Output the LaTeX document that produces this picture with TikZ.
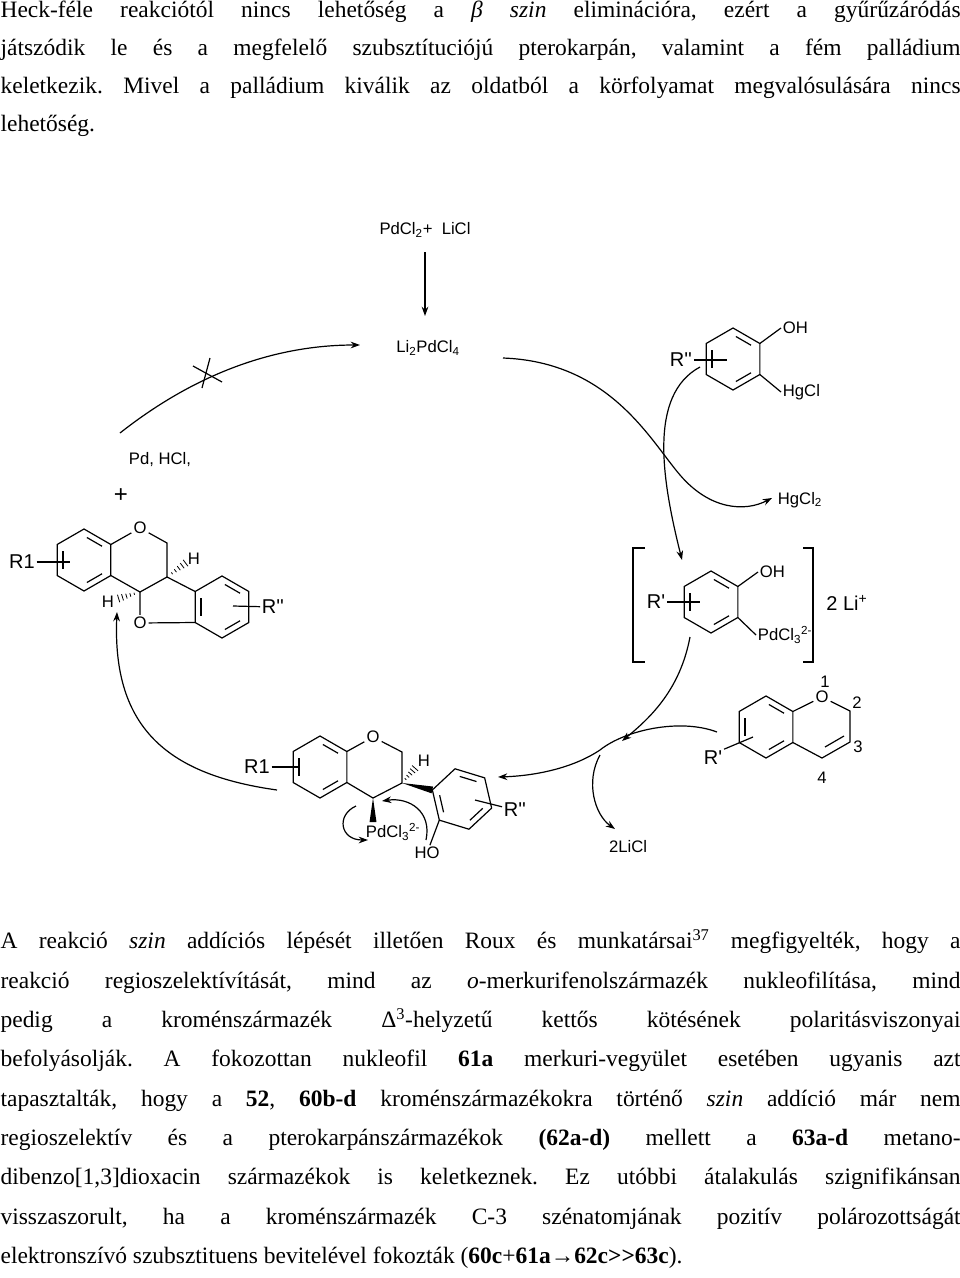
\documentclass[tikz,border=0pt]{standalone}
\usepackage{fontspec}
\setmainfont{Liberation Serif}
\newfontfamily\lab{Liberation Sans}
\usetikzlibrary{calc,arrows.meta}
\def\R{31}
\newcommand\ring[4]{%
 \begin{scope}[shift={(#1)}]
 \foreach \k in {0,...,5}{\coordinate (#4-\k) at (#2+30+60*\k:\R);}
 \draw[line join=round] (#4-0)--(#4-1)--(#4-2)--(#4-3)--(#4-4)--(#4-5)--cycle;
 \foreach \a in {#3}{\draw[shorten <=2.5pt,shorten >=2.5pt] (\a:0.78*\R) -- (\a+60:0.78*\R);}
 \end{scope}}
\newcommand\hashb[2]{\foreach \t in {0.25,0.42,0.59,0.76,0.93}{\draw[line width=0.6pt] ($(#1)!\t!(#2)!\t*3.2pt!90:(#2)$) -- ($(#1)!\t!(#2)!\t*3.2pt!-90:(#2)$);}}
\newcommand\wedgeb[2]{\fill (#1) -- ($(#2)!2.6pt!90:(#1)$) -- ($(#2)!2.6pt!-90:(#1)$) -- cycle;}
\begin{document}
\begin{tikzpicture}[x=0.75pt,y=-0.75pt,line width=0.9pt,
  lb/.style={font=\lab\fontsize{12.5}{14}\selectfont,inner sep=1pt},
  rl/.style={font=\lab\fontsize{15}{16}\selectfont,inner sep=1pt},
  atm/.style={font=\lab\fontsize{12.5}{14}\selectfont,inner sep=1.2pt},
  arr/.style={-{Stealth[length=7pt,width=5pt]}}]
\useasboundingbox (0,0) rectangle (960,1278);
\node[anchor=north west,inner sep=0,text width=720pt,align=justify,font=\frenchspacing\fontsize{17.6}{28.5}\selectfont] (p1) at (0,0)
{Heck-féle reakciótól nincs lehetőség a \textit{β szin} eliminációra, ezért a gyűrűzáródás\linebreak
játszódik le és a megfelelő szubsztítuciójú pterokarpán, valamint a fém palládium\linebreak
keletkezik. Mivel a palládium kiválik az oldatból a körfolyamat megvalósulására nincs\linebreak
lehetőség.};
\node[anchor=north west,inner sep=0,text width=720pt,align=justify,font=\frenchspacing\fontsize{17.6}{29.5}\selectfont] (p2) at (0,929)
{A reakció \textit{szin} addíciós lépését illetően Roux és munkatársai\textsuperscript{37} megfigyelték, hogy a\linebreak
reakció regioszelektívítását, mind az \textit{o}-merkurifenolszármazék nukleofilítása, mind\linebreak
pedig a kroménszármazék Δ\textsuperscript{3}-helyzetű kettős kötésének polaritásviszonyai\linebreak
befolyásolják. A fokozottan nukleofil \textbf{61a} merkuri-vegyület esetében ugyanis azt\linebreak
tapasztalták, hogy a \textbf{52}, \textbf{60b-d} kroménszármazékokra történő \textit{szin} addíció már nem\linebreak
regioszelektív és a pterokarpánszármazékok \textbf{(62a-d)} mellett a \textbf{63a-d} metano-\linebreak
dibenzo[1,3]dioxacin származékok is keletkeznek. Ez utóbbi átalakulás szignifikánsan\linebreak
visszaszorult, ha a kroménszármazék C-3 szénatomjának pozitív polározottságát\linebreak
elektronszívó szubsztituens bevitelével fokozták (\textbf{60c}+\textbf{61a}{\lab→}\textbf{62c>{}>63c}).};

% reagents
\node[lb] (pdcl) at (425,230) {PdCl\textsubscript{2}+ \ LiCl};
\node[lb] (li) at (428,348) {Li\textsubscript{2}PdCl\textsubscript{4}};
\draw[arr] (425,252) -- (425,316);
\node[lb] (pdh) at (160,460) {Pd, HCl,};
\node[font=\lab\fontsize{18}{19}\selectfont] (plus) at (121,496) {+};
\node[lb,anchor=west] (hgcl2) at (776,500) {HgCl\textsubscript{2}};
\node[lb] (licl) at (628,847) {2LiCl};

% pterocarpan
\ring{84,560}{0}{30,150,270}{A}
\ring{222,607}{0}{30,150,270}{B}
\node[atm] (O1) at (140,528) {O};
\node[atm] (O2) at (140,623) {O};
\coordinate (C6) at (167,543); \coordinate (C6a) at (167,577); \coordinate (C11a) at (140,592);
\draw (A-5) -- (O1) -- (C6) -- (C6a) -- (C11a) -- (A-0);
\draw (C11a) -- (O2) -- (B-2); \draw (C6a) -- (B-3);
\coordinate (H1e) at (187,562); \hashb{C6a}{H1e}
\node[lb] (H1) at (194,559) {H};
\coordinate (H2e) at (117,599); \hashb{C11a}{H2e}
\node[lb] (H2) at (108,602) {H};
\node[rl] (R1a) at (22,562) {R1};
\coordinate (R1ae) at (70,562); \draw (R1a) -- (R1ae);
\node[rl] (R2a) at (273,607) {R''};
\coordinate (R2as) at (233,606); \draw (R2as) -- (R2a);

% bottom intermediate
\ring{320,767}{0}{30,150,270}{C}
\ring{462,799}{-13}{17,137,257}{D}
\node[atm] (O3) at (373,737) {O};
\coordinate (C2b) at (402,752); \coordinate (C3b) at (402,783); \coordinate (C4b) at (373,798);
\draw (C-5) -- (O3) -- (C2b) -- (C3b) -- (C4b) -- (C-0);
\coordinate (H3e) at (416,767); \hashb{C3b}{H3e}
\node[lb] (H3) at (424,761) {H};
\wedgeb{C3b}{D-3}
\coordinate (Pde) at (373,822); \wedgeb{C4b}{Pde}
\node[lb,anchor=west] (pd2) at (364,832) {PdCl\textsubscript{3}\textsuperscript{2-}};
\node[lb] (HO) at (427,853) {HO};
\draw (D-2) -- (HO);
\node[rl] (R1b) at (257,767) {R1};
\coordinate (R1be) at (300,767); \draw (R1b) -- (R1be);
\node[rl] (R2b) at (515,810) {R''};
\coordinate (R2bs) at (475,800); \draw (R2bs) -- (R2b);
\draw[arr] (356,806) .. controls (336,815) and (340,840) .. (368,840);
\draw[arr] (426,840) .. controls (432,812) and (410,797) .. (382,801);

% mercury aryl
\ring{733,359}{0}{30,150,270}{E}
\node[lb,anchor=west] (OHe) at (781,328) {OH};
\node[lb,anchor=west] (HgCl) at (781,392) {HgCl};
\draw (E-5) -- (OHe.west); \draw (E-0) -- (HgCl.west);
\node[rl] (R2e) at (681,360) {R''};
\coordinate (R2ee) at (727,360); \draw (R2e) -- (R2ee);

% complex
\ring{711,602}{0}{30,150,270}{F}
\node[lb,anchor=west] (OHf) at (758,572) {OH};
\node[lb,anchor=west] (pd3) at (756,635) {PdCl\textsubscript{3}\textsuperscript{2-}};
\draw (F-5) -- (OHf.west); \draw (F-0) -- (pd3.west);
\node[rl] (R3f) at (656,602) {R'};
\coordinate (R3fe) at (700,602); \draw (R3f) -- (R3fe);
\draw (645,548) -- (633,548) -- (633,662) -- (645,662);
\draw (803,548) -- (813,548) -- (813,662) -- (803,662);
\node[rl] (li2) at (847,603) {2 Li\textsuperscript{+}};

% chromene
\ring{766,727}{0}{30,150,270}{G}
\node[atm] (O4) at (822,697) {O};
\coordinate (C2c) at (850,711); \coordinate (C3c) at (850,742); \coordinate (C4c) at (822,758);
\draw (G-5) -- (O4) -- (C2c) -- (C3c) -- (C4c) -- (G-0);
\draw (844,736) -- (825,747);
\node[lb] (n1) at (825,682) {1};
\node[lb] (n2) at (857,703) {2};
\node[lb] (n3) at (858,747) {3};
\node[lb] (n4) at (822,778) {4};
\node[rl] (R3g) at (713,758) {R'};
\coordinate (R3ge) at (753,737); \draw (R3g.north east) -- (R3ge);

% cycle arrows
\draw[arr] (120,433) .. controls (200,370) and (280,345) .. (360,345);
\draw (210,358) -- (202,388); \draw (193,366) -- (222,382);
\draw[arr] (503,358) .. controls (610,362) and (650,440) .. (680,475) .. controls (710,510) and (745,512) .. (772,498);
\draw[arr] (700,367) .. controls (648,395) and (662,480) .. (682,560);
\draw[arr] (690,637) .. controls (680,690) and (650,718) .. (622,741);
\draw[arr] (717,732) .. controls (680,718) and (625,730) .. (600,750) .. controls (570,770) and (530,776) .. (498,777);
\draw[arr] (600,755) .. controls (585,782) and (595,815) .. (615,829);
\draw[arr] (277,790) .. controls (170,775) and (112,730) .. (117,612);
\end{tikzpicture}
\end{document}
